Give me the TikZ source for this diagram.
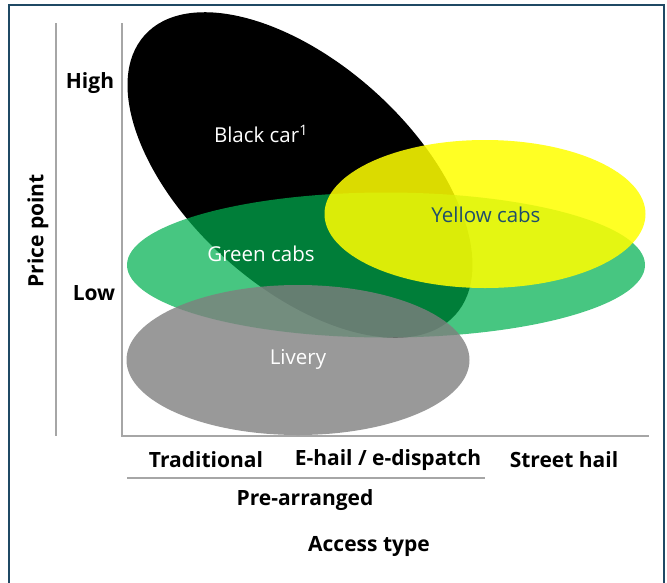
\documentclass[tikz,border=0pt]{standalone}
\usepackage{fontspec}
\setmainfont{Open Sans}
\usepackage{tikz}
\usetikzlibrary{shapes.geometric,positioning}
\definecolor{framecol}{RGB}{31,73,100}
\definecolor{axiscol}{RGB}{166,166,166}
\definecolor{cabgreen}{RGB}{0,176,80}
\definecolor{cabyellow}{RGB}{255,255,0}
\definecolor{liverygray}{RGB}{127,127,127}
\definecolor{yellowtext}{RGB}{31,78,107}
\tikzset{
  every picture/.append style={line width=0.6pt},
}
\tikzset{
  blob/.style={ellipse, draw=none, inner sep=0pt},
  axisline/.style={draw=axiscol, line width=1.5pt},
  catlabel/.style={font=\bfseries\fontsize{21}{25}\selectfont, inner sep=0pt},
  bloblabel/.style={font=\fontsize{20.5}{24}\selectfont, inner sep=0pt}
}

\begin{document}
\begin{tikzpicture}[x=1pt, y=-1pt]
\useasboundingbox (0,0) rectangle (667,582);
% frame
\draw[framecol, line width=2.8pt] (9,600) -- (9,5) -- (664,5) -- (664,600);

% axes
\coordinate (ptop) at (56,23);
\coordinate (pbot) at (56,436);
\coordinate (ytop) at (122,23);
\coordinate (origin) at (122,436);
\coordinate (xend) at (649,436);
\coordinate (pa-l) at (127,478);
\coordinate (pa-r) at (485,478);
\draw[axisline] (ptop) -- (pbot);
\draw[axisline] (ytop) -- (origin) -- (xend);
\draw[axisline] (pa-l) -- (pa-r);

% segments
\node[blob, fill=black, minimum width=418pt, minimum height=224pt, rotate=-42] (black) at (300,175) {};
\node[blob, fill=cabgreen, fill opacity=0.72, minimum width=518pt, minimum height=145pt] (green) at (386,265) {};
\node[blob, fill=cabyellow, fill opacity=0.86, minimum width=321pt, minimum height=148pt] (yellow) at (485,214) {};
\node[blob, fill=liverygray, fill opacity=0.8, minimum width=343pt, minimum height=150pt] (livery) at (298,360) {};

\node[bloblabel, text=white] (black-lbl) at (261,134) {Black car\textsuperscript{1}};
\node[bloblabel, text=white] (green-lbl) at (261,254) {Green cabs};
\node[bloblabel, text=yellowtext] (yellow-lbl) at (486,215) {Yellow cabs};
\node[bloblabel, text=white] (livery-lbl) at (298,359) {Livery};

% labels
\node[catlabel] (high) at (90,83) {High};
\node[catlabel] (low) at (94,293) {Low};
\node[catlabel, rotate=90] (price) at (38,231) {Price point};
\node[catlabel] (trad) at (206,460) {Traditional};
\node[catlabel] (ehail) at (388,460) {E-hail / e-dispatch};
\node[catlabel] (street) at (564,460) {Street hail};
\node[catlabel] (prearr) at (305,500) {Pre-arranged};
\node[catlabel] (access) at (369,546) {Access type};
\end{tikzpicture}
\end{document}
